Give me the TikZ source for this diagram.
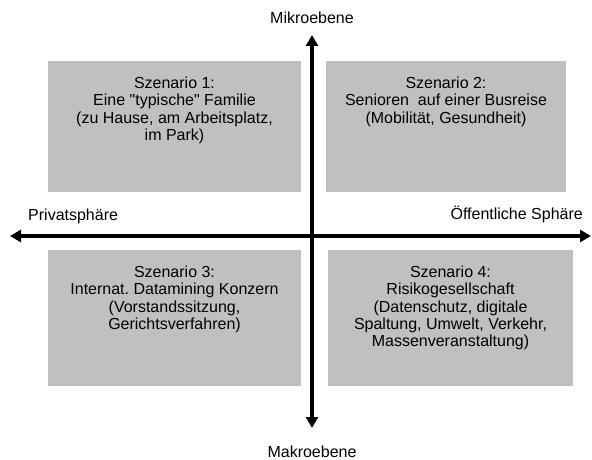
\documentclass[tikz,border=0pt]{standalone}
\usepackage{fontspec}
\setmainfont{Liberation Sans}
\usetikzlibrary{positioning, arrows.meta}

\begin{document}
\begin{tikzpicture}[x=1pt, y=1pt,
    szenario/.style={fill=boxgray, draw=none, inner sep=0pt},
    szenariotext/.style={align=center, inner sep=0pt, font=\fontsize{16}{17.3}\selectfont},
    achse/.style={line width=3.5pt, {Triangle[length=11pt, width=12pt]}-{Triangle[length=11pt, width=12pt]}},
    beschriftung/.style={font=\fontsize{16}{17.3}\selectfont, inner sep=0pt}]
   \definecolor{boxgray}{RGB}{192,192,192}
   \useasboundingbox (0,0) rectangle (592,459);

   % The four scenario boxes
   \node[szenario, minimum width=253pt, minimum height=131pt] (sz1) at (174.5,332.5) {};
   \node[szenario, minimum width=240pt, minimum height=131pt] (sz2) at (446,332.5) {};
   \node[szenario, minimum width=253pt, minimum height=136pt] (sz3) at (174.5,141) {};
   \node[szenario, minimum width=245pt, minimum height=136pt] (sz4) at (450.5,141) {};

   % Their texts
   \node[szenariotext, below=16pt of sz1.north] (t1)
     {Szenario 1:\\Eine \textquotedbl typische\textquotedbl{} Familie\\(zu Hause, am Arbeitsplatz,\\im Park)};
   \node[szenariotext, below=16pt of sz2.north] (t2)
     {Szenario 2:\\Senioren\ \ auf einer Busreise\\(Mobilität, Gesundheit)};
   \node[szenariotext, below=16pt of sz3.north] (t3)
     {Szenario 3:\\Internat.\ Datamining Konzern\\(Vorstandssitzung,\\Gerichtsverfahren)};
   \node[szenariotext, below=16pt of sz4.north] (t4)
     {Szenario 4:\\Risikogesellschaft\\(Datenschutz, digitale\\Spaltung, Umwelt, Verkehr,\\Massenveranstaltung)};

   % Axis ends
   \coordinate (oben) at (312,424);
   \coordinate (unten) at (312,31);
   \coordinate (links) at (10,223);
   \coordinate (rechts) at (591,223);

   % Axis labels
   \node[beschriftung, anchor=base] (mikro) at (312,435) {Mikroebene};
   \node[beschriftung, anchor=base] (makro) at (312,2) {Makroebene};
   \node[beschriftung, anchor=base west] (privat) at (28,239) {Privatsphäre};
   \node[beschriftung, anchor=base east] (oeffentlich) at (583,240) {Öffentliche Sphäre};

   % Axes
   \draw[achse] (unten) -- (oben);
   \draw[achse] (links) -- (rechts);
\end{tikzpicture}
\end{document}
